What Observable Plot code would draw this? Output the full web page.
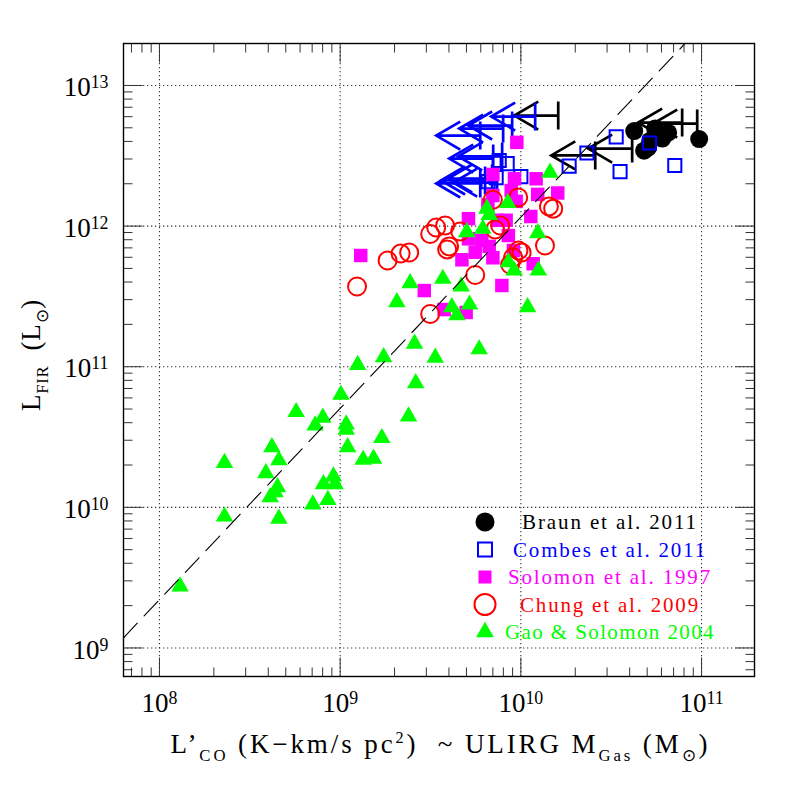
<!DOCTYPE html>
<html>
<head>
<meta charset="utf-8">
<script src="https://cdn.jsdelivr.net/npm/d3@7"></script>
<script src="https://cdn.jsdelivr.net/npm/@observablehq/plot@0.6"></script>
<style>
  html, body { margin: 0; padding: 0; background: #fff; }
  #chart svg { display: block; }
</style>
</head>
<body>
<div id="chart"></div>
<script>
// ================= DATA =================
// Braun et al. 2011 (black filled circles)
const braunX = [4.24e10, 4.81e10, 9.7e10, 5.53e10, 6.06e10, 5.2e10, 6.53e10, 5.06e10];
const braunY = [4.74e12, 3.44e12, 4.16e12, 4.94e12, 4.19e12, 4.05e12, 4.62e12, 3.62e12];
// Braun et al. 2011 upper limits in L'CO (black left arrows)
const braunLimX = [1.61e10, 2.58e10, 4.13e10, 7.81e10, 9.46e10];
const braunLimY = [6.11e12, 3.18e12, 3.56e12, 5.45e12, 5.36e12];
// Combes et al. 2011 (blue open squares)
const combesX = [3.37e10, 2.32e10, 1.85e10, 3.54e10, 5.15e10, 7.11e10, 1.0e10, 7.3e9, 6.59e9, 7.59e9, 8.4e9];
const combesY = [4.31e12, 3.31e12, 2.67e12, 2.44e12, 3.90e12, 2.70e12, 2.25e12, 2.21e12, 2.07e12, 2.93e12, 2.78e12];
// Combes et al. 2011 upper limits (blue left arrows)
const combesLimX = [1.20e10, 5.96e9, 7.98e9, 8.95e9, 7.03e9, 7.88e9, 5.96e9, 6.34e9, 6.93e9, 7.39e9];
const combesLimY = [6.01e12, 4.40e12, 4.94e12, 5.19e12, 3.02e12, 3.13e12, 2.01e12, 2.11e12, 2.18e12, 2.04e12];
// Solomon et al. 1997 (magenta filled squares)
const solomonX = [9.5e9, 7.0e9, 9.22e9, 1.215e10, 1.60e10, 1.24e10, 8.84e9, 9.42e9, 7.0e9, 6.57e9, 5.13e9, 1.135e10, 8.29e9, 8.53e9, 6.08e9, 5.13e9, 5.59e9, 4.72e9, 7.0e9, 9.1e9, 1.17e10, 7.85e9, 1.30e9, 2.92e9, 3.76e9, 4.98e9, 6.68e9, 7.4e9];
const solomonY = [3.94e12, 2.33e12, 2.17e12, 2.17e12, 1.72e12, 1.68e12, 1.79e12, 1.50e12, 1.65e12, 1.42e12, 1.13e12, 1.17e12, 1.10e12, 8.57e11, 7.91e11, 8.12e11, 6.52e11, 5.76e11, 5.95e11, 6.71e11, 5.40e11, 3.78e11, 6.18e11, 3.48e11, 2.55e11, 2.43e11, 7.17e11, 1.10e12];
// Chung et al. 2009 (red open circles)
const chungX = [1.24e9, 1.83e9, 2.16e9, 2.41e9, 3.15e9, 3.40e9, 3.81e9, 3.91e9, 4.01e9, 5.59e9, 3.15e9, 7.0e9, 1.36e10, 1.51e10, 1.43e10, 9.7e9, 1.01e10, 8.73e9, 7.68e9, 4.62e9, 9.67e9, 7.2e9, 9.06e9];
const chungY = [3.72e11, 5.69e11, 6.38e11, 6.49e11, 8.79e11, 9.77e11, 1.01e12, 6.82e11, 7.17e11, 4.49e11, 2.37e11, 1.54e12, 7.28e11, 1.33e12, 1.38e12, 6.71e11, 6.49e11, 5.33e11, 1.01e12, 9.15e11, 1.60e12, 9.46e11, 5.98e11];
// Gao & Solomon 2004 (green triangles)
const gaoX = [1.30e8, 2.29e8, 2.29e8, 3.88e8, 4.19e8, 4.58e8, 4.50e8, 4.36e8, 4.10e8, 4.58e8, 5.71e8, 7.06e8, 7.27e8, 8.02e8, 8.08e8, 8.55e8, 9.18e8, 9.37e8, 1.01e9, 1.08e9, 1.08e9, 1.10e9, 1.25e9, 1.34e9, 1.53e9, 1.70e9, 1.74e9, 2.39e9, 2.58e9, 2.62e9, 2.06e9, 2.44e9, 3.70e9, 4.68e9, 4.15e9, 5.20e9, 4.43e9, 5.88e9, 3.36e9, 1.45e10, 8.47e9, 6.49e9, 6.68e9, 6.16e9, 5.02e9, 1.24e10, 8.54e9, 9.18e9, 1.25e10, 1.09e10];
const gaoY = [2.74e9, 2.07e10, 8.6e9, 1.75e10, 2.68e10, 2.16e10, 1.39e10, 1.28e10, 1.18e10, 8.3e9, 4.76e10, 1.05e10, 3.83e10, 4.34e10, 1.46e10, 1.13e10, 1.66e10, 1.46e10, 6.32e10, 3.89e10, 3.57e10, 2.68e10, 1.03e11, 2.18e10, 2.22e10, 3.11e10, 1.17e11, 4.43e10, 1.46e11, 7.65e10, 2.88e11, 3.93e11, 4.22e11, 3.72e11, 2.65e11, 2.77e11, 2.32e11, 1.33e11, 1.16e11, 2.40e12, 1.46e12, 1.33e12, 1.20e12, 9.57e11, 9.05e11, 8.9e11, 5.53e11, 4.83e11, 4.83e11, 2.65e11];

const seriesLabels = ["Braun et al. 2011", "Combes et al. 2011", "Solomon et al. 1997", "Chung et al. 2009", "Gao & Solomon 2004"];
const seriesColors = ["#000000", "#0000ff", "#ff00ff", "#ff0000", "#00ff00"];
const xTickExponents = [8, 9, 10, 11];
const yTickExponents = [9, 10, 11, 12, 13];
// dashed relation: log L_FIR = fitIntercept + fitSlope * log L'CO
const fitSlope = 1.36;
const fitIntercept = -1.537;

// ================= LAYOUT =================
const W = 797, H = 797;
const M = {left: 123, right: 43, top: 43, bottom: 121};
const xDomain = [10 ** 7.801, 10 ** 11.293];
const yDomain = [10 ** 8.797, 10 ** 13.2985];
const FONT = "'Liberation Serif', 'Times New Roman', serif";

const zip = (xs, ys) => xs.map((x, i) => ({x, y: ys[i]}));
const braun = zip(braunX, braunY), braunLim = zip(braunLimX, braunLimY);
const combes = zip(combesX, combesY), combesLim = zip(combesLimX, combesLimY);
const solomon = zip(solomonX, solomonY), chung = zip(chungX, chungY), gao = zip(gaoX, gaoY);

function logTicks([lo, hi]) {
  const major = [], minor = [];
  for (let d = Math.floor(Math.log10(lo)); d <= Math.ceil(Math.log10(hi)); d++) {
    for (let k = 1; k <= 9; k++) {
      const v = k * 10 ** d;
      if (v >= lo && v <= hi) (k === 1 ? major : minor).push(v);
    }
  }
  return {major, minor};
}
const xt = logTicks(xDomain), yt = logTicks(yDomain);
const xMajor = xTickExponents.map(e => 10 ** e);
const yMajor = yTickExponents.map(e => 10 ** e);

// fit line endpoints, kept within the frame
const fx0 = Math.log10(xDomain[0]);
const fx1 = Math.min(Math.log10(xDomain[1]), (Math.log10(yDomain[1]) - fitIntercept) / fitSlope);
const fitPts = [fx0, fx1].map(lx => ({x: 10 ** lx, y: 10 ** (fitIntercept + fitSlope * lx)}));

function build(custom) {
  const lineShape = custom ? {draw(c, l) { c.moveTo(0, 0); c.lineTo(0, -l); }} : "arrow";
  const limShape = custom ? {draw(c, l) {
    c.moveTo(-14, 0); c.lineTo(14, 0);
    c.moveTo(0, 0); c.lineTo(0, -l);
    c.moveTo(-14, -l + 24); c.lineTo(0, -l); c.lineTo(14, -l + 24);
  }} : "arrow";
  const tick = (data, chan, anchor, rot, len) => Plot.vector(data, {
    [chan]: d => d, frameAnchor: anchor, rotate: rot, length: len, anchor: "start",
    shape: lineShape, r: 0, stroke: "#333", strokeWidth: 1, strokeLinecap: "butt"
  });
  const limit = (data, color) => Plot.vector(data, {
    x: "x", y: "y", length: 44, rotate: -90, anchor: "start", shape: limShape,
    r: custom ? 3.5 : 6, stroke: color, strokeWidth: 2.7, strokeLinecap: "butt", strokeLinejoin: "miter"
  });
  return Plot.plot({
    width: W, height: H,
    marginLeft: M.left, marginRight: M.right, marginTop: M.top, marginBottom: M.bottom,
    x: {type: "log", domain: xDomain, axis: null},
    y: {type: "log", domain: yDomain, axis: null},
    style: {background: "white", fontFamily: FONT, color: "black"},
    marks: [
      Plot.ruleX(xMajor, {x: d => d, stroke: "#333", strokeWidth: 1.1, strokeDasharray: "1.3,2.7"}),
      Plot.ruleY(yMajor, {y: d => d, stroke: "#333", strokeWidth: 1.1, strokeDasharray: "1.3,2.7"}),
      Plot.dot(braun, {x: "x", y: "y", r: 9, fill: seriesColors[0], stroke: "none"}),
      limit(braunLim, seriesColors[0]),
      Plot.dot(combes, {x: "x", y: "y", symbol: "square", r: 7.4, fill: "none", stroke: seriesColors[1], strokeWidth: 2}),
      limit(combesLim, seriesColors[1]),
      Plot.dot(solomon, {x: "x", y: "y", symbol: "square", r: 7.6, fill: seriesColors[2], stroke: "none"}),
      Plot.dot(chung, {x: "x", y: "y", r: 9, fill: "none", stroke: seriesColors[3], strokeWidth: 2}),
      Plot.dot(gao, {x: "x", y: "y", symbol: "triangle", r: 6.5, fill: seriesColors[4], stroke: "none"}),
      Plot.line(fitPts, {x: "x", y: "y", stroke: "black", strokeWidth: 1.1, strokeDasharray: "20,10"}),
      tick(xt.major, "x", "bottom", 0, 19), tick(xt.minor, "x", "bottom", 0, 9),
      tick(xt.major, "x", "top", 180, 19), tick(xt.minor, "x", "top", 180, 9),
      tick(yt.major, "y", "left", 90, 19), tick(yt.minor, "y", "left", 90, 9),
      tick(yt.major, "y", "right", -90, 19), tick(yt.minor, "y", "right", -90, 9),
      Plot.frame({stroke: "black", strokeWidth: 1.4}),
      Plot.text(xMajor, {x: d => d, frameAnchor: "bottom", dy: 35, text: d => "10^" + Math.round(Math.log10(d)),
        fontSize: 27, fontFamily: FONT, fill: "black", textAnchor: "middle"}),
      Plot.text(yMajor, {y: d => d, frameAnchor: "left", dx: -15, dy: 2, text: d => "10^" + Math.round(Math.log10(d)),
        fontSize: 27, fontFamily: FONT, fill: "black", textAnchor: "end"})
    ]
  });
}

let svg;
try { svg = build(true); } catch (e) { svg = build(false); }
document.getElementById("chart").appendChild(svg);
const S = d3.select(svg);

// superscript tick labels
S.selectAll("text").each(function () {
  const m = /^10\^(\d+)$/.exec(this.textContent);
  if (!m) return;
  const t = d3.select(this);
  t.text("");
  t.append("tspan").text("10");
  t.append("tspan").text(m[1]).attr("dy", -8).attr("font-size", "0.66em");
});

// rich text helper (sub / sup segments)
function richText(sel, segs, size) {
  let shift = 0;
  for (const s of segs) {
    const target = s.k === "sub" ? 0.3 * size : s.k === "sup" ? -0.36 * size : 0;
    const ts = sel.append("tspan").text(s.t);
    if (target - shift !== 0) ts.attr("dy", target - shift);
    if (s.k) ts.attr("font-size", (s.k === "sub" ? 0.62 : 0.6) * size);
    shift = target;
  }
}
function fitWidth(sel, target) {
  const node = sel.node();
  const w = node.getComputedTextLength();
  const n = node.textContent.length;
  if (n > 1) sel.attr("letter-spacing", ((target - w) / n).toFixed(2));
}

// axis titles
const cx = M.left + (W - M.left - M.right) / 2;
const xTitle = S.append("text").attr("x", cx + 2).attr("y", 753)
  .attr("text-anchor", "middle").attr("font-family", FONT).attr("font-size", 27).attr("fill", "black");
richText(xTitle, [
  {t: "L’"}, {t: "CO", k: "sub"}, {t: " (K−km/s pc"}, {t: "2", k: "sup"}, {t: ")  ~ ULIRG M"},
  {t: "Gas", k: "sub"}, {t: " (M"}, {t: "⊙", k: "sub"}, {t: ")"}
], 27);
fitWidth(xTitle, 540);

const yTitle = S.append("text").attr("transform", "translate(40,355) rotate(-90)")
  .attr("text-anchor", "middle").attr("font-family", FONT).attr("font-size", 27).attr("fill", "black");
richText(yTitle, [{t: "L"}, {t: "FIR", k: "sub"}, {t: "  (L"}, {t: "⊙", k: "sub"}, {t: ")"}], 27);
fitWidth(yTitle, 112);

// legend
const legendWidths = [176, 194, 204, 180, 210];
const symbols = ["circle", "square", "squareFilled", "ring", "triangle"];
const lg = S.append("g");
seriesLabels.forEach((label, i) => {
  const y = 522 + i * 27.5, x = 485, col = seriesColors[i], s = symbols[i];
  if (s === "circle") lg.append("circle").attr("cx", x).attr("cy", y).attr("r", 9.5).attr("fill", col);
  else if (s === "square") lg.append("rect").attr("x", x - 7).attr("y", y - 7).attr("width", 14).attr("height", 14)
    .attr("fill", "none").attr("stroke", col).attr("stroke-width", 2);
  else if (s === "squareFilled") lg.append("rect").attr("x", x - 6.5).attr("y", y - 6.5).attr("width", 13).attr("height", 13).attr("fill", col);
  else if (s === "ring") lg.append("circle").attr("cx", x).attr("cy", y).attr("r", 10.5)
    .attr("fill", "none").attr("stroke", col).attr("stroke-width", 2);
  else lg.append("path").attr("transform", `translate(${x},${y})`)
    .attr("d", d3.symbol(d3.symbolTriangle, Math.PI * 44)()).attr("fill", col);
  const t = lg.append("text").attr("x", 610).attr("y", y).attr("dy", "0.35em")
    .attr("text-anchor", "middle").attr("font-family", FONT).attr("font-size", 21).attr("fill", col).text(label);
  fitWidth(t, legendWidths[i]);
});
</script>
</body>
</html>
